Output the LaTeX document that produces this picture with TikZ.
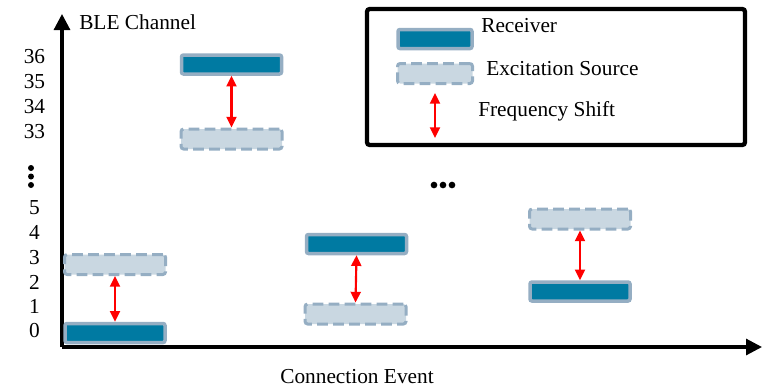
\documentclass[tikz,border=0pt]{standalone}
\usepackage{fontspec}
\setmainfont{Liberation Serif}
\usetikzlibrary{arrows.meta}
\definecolor{rxfill}{HTML}{007AA2}
\definecolor{barline}{HTML}{95AEC3}
\definecolor{exfill}{HTML}{C9D7E1}
\tikzset{
  every node/.style={font=\fontsize{16}{19}\selectfont},
  lbl/.style={inner sep=0pt, anchor=base},
  lblw/.style={inner sep=0pt, anchor=base west},
  recv/.style={draw=barline, fill=rxfill, line width=3.5*0.75pt,
    rounded corners=1.5pt, inner sep=0pt,
    minimum width=100*0.75pt, minimum height=19*0.75pt},
  excit/.style={draw=barline, fill=exfill, line width=3*0.75pt,
    dash pattern=on 8pt off 4pt, rounded corners=2pt, inner sep=0pt,
    minimum width=101*0.75pt, minimum height=20*0.75pt},
  fshift/.style={red, line width=1.6pt,
    {Triangle[length=8pt,width=7.5pt]}-{Triangle[length=8pt,width=7.5pt]}},
  axis/.style={line width=2.3pt, -{Triangle[length=12pt,width=12pt]}},
  dot/.style={circle, fill=black, inner sep=0pt, minimum size=4.5pt}
}
\begin{document}
\begin{tikzpicture}[x=0.75pt,y=-0.75pt]
\useasboundingbox (0,0) rectangle (770,387);

% axes
\coordinate (o) at (62,347);
\coordinate (ytip) at (62,14);
\coordinate (xtip) at (762,347);
\draw[axis] (o) -- (ytip);
\draw[axis] (o) -- (xtip);
\node[lblw] (ylab) at (79,29) {BLE Channel};
\node[lbl] (xlab) at (357,383) {Connection Event};

% channel labels
\node[lbl] (c36) at (34.5,63) {36};
\node[lbl] (c35) at (34.5,88) {35};
\node[lbl] (c34) at (34.5,113) {34};
\node[lbl] (c33) at (34.5,138) {33};
\node[dot] (v1) at (31,168) {};
\node[dot] (v2) at (31,176.5) {};
\node[dot] (v3) at (31,185) {};
\node[lbl] (c5) at (34.5,214) {5};
\node[lbl] (c4) at (34.5,239) {4};
\node[lbl] (c3) at (34.5,264) {3};
\node[lbl] (c2) at (34.5,289) {2};
\node[lbl] (c1) at (34.5,313) {1};
\node[lbl] (c0) at (34.5,337) {0};

% connection events
\node[recv]  (r1) at (115,333) {};
\node[excit] (e1) at (115,264.5) {};
\draw[fshift] (e1.south) -- (r1.north);

\node[recv]  (r2) at (231.5,64.5) {};
\node[excit] (e2) at (231.5,139) {};
\draw[fshift] (r2.south) -- (e2.north);

\node[recv]  (r3) at (356.5,244) {};
\node[excit] (e3) at (355.5,314) {};
\draw[fshift] (r3.south) -- (e3.north);

\node[excit] (e4) at (580,219) {};
\node[recv]  (r4) at (580,291.5) {};
\draw[fshift] (e4.south) -- (r4.north);

\node[dot, minimum size=5pt] (h1) at (434,185) {};
\node[dot, minimum size=5pt] (h2) at (443,185) {};
\node[dot, minimum size=5pt] (h3) at (452,185) {};

% legend
\draw[line width=3.2pt, rounded corners=2pt] (367,9) rectangle (745,145);
\node[recv, minimum width=74*0.75pt] (lr) at (435,39) {};
\node[excit, minimum width=75*0.75pt] (le) at (435,73.5) {};
\coordinate (la) at (435,93);
\coordinate (lb) at (435,138);
\draw[fshift] (la) -- (lb);
\node[lblw] (tr) at (481,32) {Receiver};
\node[lblw] (te) at (486,75) {Excitation Source};
\node[lblw] (tf) at (478,116) {Frequency Shift};
\end{tikzpicture}
\end{document}
